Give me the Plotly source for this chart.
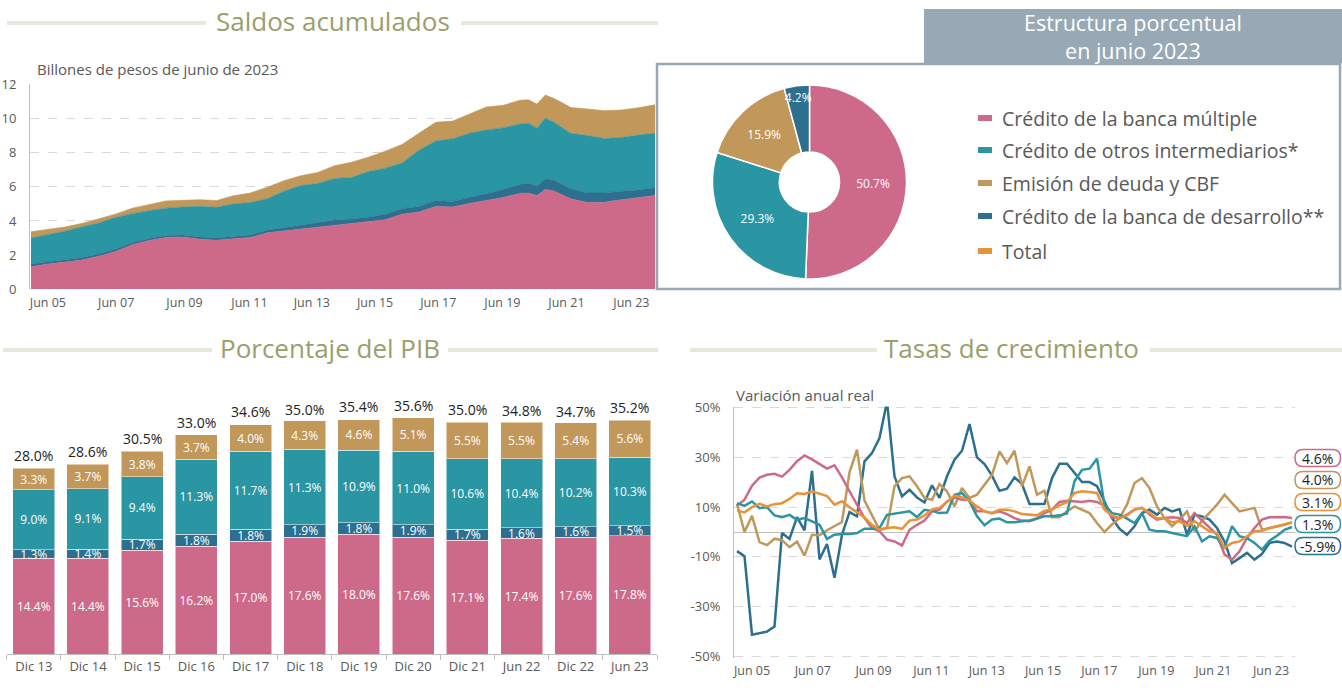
import plotly.graph_objects as go

ANCHO, ALTO = 1342, 698


def px(x):
    return x / ANCHO


def py(y):
    return 1 - y / ALTO


ROSA = '#cd6a89'
AZUL = '#2d6f8f'
TURQUESA = '#2a95a3'
ARENA = '#c1975a'
NARANJA = '#e8923a'
OLIVO = '#9a9f6b'
GRIS = '#595959'
GRIS_EJE = '#bfbfbf'
GRIS_REJILLA = '#d9d9d9'
BEIGE = '#e7e7dd'
PIZARRA = '#98a9b5'
FUENTE = 'Open Sans'

# ---------------- datos ----------------
# Saldos acumulados (billones de pesos de junio 2023); índice trimestral desde dic 2004
trim_saldos = [0, 2, 4, 6, 8, 10, 12, 14, 16, 18, 20, 22, 24, 26, 28, 30, 32, 34, 36, 38,
               40, 42, 44, 46, 48, 50, 52, 54, 56, 58, 59, 60, 61, 62, 63, 64, 66, 68, 70, 72, 74]
saldo_multiple = [1.31, 1.47, 1.58, 1.70, 1.92, 2.20, 2.60, 2.85, 3.02, 3.06, 2.93, 2.87, 2.95, 3.03,
                  3.30, 3.41, 3.51, 3.61, 3.74, 3.82, 3.92, 4.07, 4.40, 4.52, 4.85, 4.82, 5.03, 5.20,
                  5.38, 5.62, 5.64, 5.50, 5.85, 5.76, 5.55, 5.30, 5.08, 5.10, 5.25, 5.35, 5.49]
saldo_desarrollo = [0.16, 0.13, 0.14, 0.13, 0.13, 0.13, 0.12, 0.12, 0.12, 0.12, 0.12, 0.13, 0.13, 0.14,
                    0.15, 0.19, 0.24, 0.27, 0.31, 0.30, 0.30, 0.33, 0.32, 0.33, 0.35, 0.33, 0.37, 0.40,
                    0.47, 0.53, 0.58, 0.55, 0.63, 0.64, 0.60, 0.60, 0.57, 0.55, 0.50, 0.47, 0.46]
saldo_otros = [1.53, 1.60, 1.68, 1.82, 1.83, 1.87, 1.71, 1.63, 1.61, 1.64, 1.81, 1.80, 1.92, 1.91,
               1.85, 2.15, 2.33, 2.32, 2.45, 2.43, 2.68, 2.70, 2.68, 3.30, 3.50, 3.68, 3.75, 3.75,
               3.62, 3.55, 3.52, 3.40, 3.57, 3.40, 3.35, 3.25, 3.37, 3.20, 3.15, 3.23, 3.20]
saldo_deuda = [0.37, 0.30, 0.24, 0.20, 0.24, 0.20, 0.32, 0.38, 0.43, 0.39, 0.39, 0.40, 0.48, 0.56,
               0.68, 0.62, 0.58, 0.65, 0.75, 0.90, 0.85, 1.00, 1.10, 1.00, 1.10, 1.04, 1.15, 1.35,
               1.33, 1.40, 1.38, 1.42, 1.35, 1.40, 1.45, 1.52, 1.56, 1.63, 1.62, 1.60, 1.68]

etiquetas_fecha = ['Jun 05', 'Jun 07', 'Jun 09', 'Jun 11', 'Jun 13', 'Jun 15', 'Jun 17', 'Jun 19',
                   'Jun 21', 'Jun 23']
pos_fecha = [2.0, 10.1, 18.2, 25.9, 33.3, 40.8, 48.3, 55.9, 63.5, 71.2]

# Estructura porcentual junio 2023
nombres = ['Crédito de la banca múltiple', 'Crédito de otros intermediarios*',
           'Emisión de deuda y CBF', 'Crédito de la banca de desarrollo**', 'Total']
estructura = [50.7, 29.3, 15.9, 4.2]

# Porcentaje del PIB
periodos = ['Dic 13', 'Dic 14', 'Dic 15', 'Dic 16', 'Dic 17', 'Dic 18', 'Dic 19', 'Dic 20',
            'Dic 21', 'Jun 22', 'Dic 22', 'Jun 23']
pib_multiple = [14.4, 14.4, 15.6, 16.2, 17.0, 17.6, 18.0, 17.6, 17.1, 17.4, 17.6, 17.8]
pib_desarrollo = [1.3, 1.4, 1.7, 1.8, 1.8, 1.9, 1.8, 1.9, 1.7, 1.6, 1.6, 1.5]
pib_otros = [9.0, 9.1, 9.4, 11.3, 11.7, 11.3, 10.9, 11.0, 10.6, 10.4, 10.2, 10.3]
pib_deuda = [3.3, 3.7, 3.8, 3.7, 4.0, 4.3, 4.6, 5.1, 5.5, 5.5, 5.4, 5.6]
pib_total = [28.0, 28.6, 30.5, 33.0, 34.6, 35.0, 35.4, 35.6, 35.0, 34.8, 34.7, 35.2]

# Tasas de crecimiento (variación anual real, %), trimestral dic 2004 - jun 2023
trim_tasas = list(range(75))
tasa_multiple = [10.5, 13.0, 18.6, 21.9, 23.0, 23.4, 22.3, 25.0, 28.5, 30.8,
                 29.2, 27.2, 25.5, 26.8, 22.0, 16.4, 11.0, 5.6, 1.6, 0.3,
                 -3.1, -3.8, -5.4, 0.9, 2.9, 4.6, 8.3, 9.0, 12.3, 13.9,
                 13.0, 13.0, 8.3, 8.3, 7.6, 8.3, 7.2, 5.6, 4.6, 4.3,
                 5.4, 7.6, 9.0, 12.1, 12.6, 12.3, 12.1, 12.6, 12.1, 10.5,
                 5.9, 5.6, 7.0, 9.0, 9.7, 7.0, 5.0, 5.6, 5.9, 5.6,
                 3.6, 7.6, 4.6, 1.6, -1.1, -9.0, -11.1, -7.8, -2.4, 1.6,
                 5.0, 5.9, 6.0, 6.0, 5.6]
tasa_desarrollo = [-7.7, -9.7, -41.3, -40.7, -40.1, -38.0, -0.4, -2.8, 6.0, 0.7,
                   24.6, -11.0, -4.8, -18.4, -1.1, 8.0, 6.3, 28.4, 31.8, 37.8,
                   52.5, 22.4, 14.3, 17.0, 13.9, 11.9, 18.8, 13.7, 22.4, 29.1,
                   32.7, 43.4, 30.0, 27.3, 22.7, 16.6, 17.4, 22.0, 19.3, 11.3,
                   11.3, 11.3, 21.7, 27.5, 27.5, 24.0, 20.1, 20.1, 18.4, 12.3,
                   5.6, 1.3, -1.1, 2.3, 7.6, 9.0, 7.0, 9.7, 8.3, 9.2,
                   -1.1, 7.0, 6.3, 5.0, 1.6, -3.8, -12.5, -10.5, -8.4, -11.1,
                   -8.8, -4.4, -3.8, -4.4, -5.9]
tasa_otros = [11.6, 10.5, 12.3, 9.6, 10.0, 6.7, 6.0, 6.9, 4.9, 5.6,
              4.3, 2.9, -2.8, -1.1, -0.8, -0.8, -0.4, 1.3, 1.3, 1.6,
              6.9, 7.3, 7.6, 8.3, 6.0, 8.9, 8.5, 7.6, 7.8, 15.0,
              15.7, 12.3, 6.3, 2.7, 5.0, 5.4, 3.9, 3.9, 4.3, 4.6,
              5.4, 6.3, 6.3, 6.7, 7.5, 20.4, 25.0, 25.5, 29.5, 11.0,
              7.6, 7.0, 5.4, 3.6, 7.6, 0.9, 0.3, 0.3, -0.4, -1.1,
              -1.7, 2.3, -3.8, -1.7, -2.4, -6.5, 2.3, -1.7, -2.5, -4.4,
              -7.1, -3.5, -1.5, 0.9, 2.0]
tasa_deuda = [11.3, 0.0, 6.5, -4.1, -5.3, -2.7, -3.3, -6.1, -3.9, -9.5,
              -1.1, -1.3, 0.7, 2.3, 4.0, 24.0, 33.1, 12.6, 7.0, 0.9,
              1.6, 18.4, 21.7, 22.4, 18.4, 13.7, 13.0, 19.3, 16.4, 10.3,
              17.7, 13.7, 15.0, 19.0, 23.0, 32.4, 27.7, 32.7, 18.4, 26.4,
              15.0, 16.6, 5.9, 5.9, 8.3, 10.3, 9.0, 7.6, 3.6, 0.0,
              3.0, 5.6, 11.0, 19.7, 21.7, 17.7, 10.3, 5.6, 2.3, 5.0,
              8.3, 0.3, 4.5, 7.6, 11.0, 15.0, 11.7, 8.3, 9.0, 9.7,
              0.9, 1.6, 2.3, 2.9, 4.0]
tasa_total = [8.7, 7.9, 10.0, 11.3, 10.3, 11.2, 11.6, 13.3, 15.6, 15.3,
              16.4, 15.3, 14.5, 11.0, 12.4, 10.0, 8.0, 5.8, 2.9, 0.9,
              1.6, 1.9, 1.3, 4.6, 5.0, 6.7, 9.0, 9.7, 12.1, 14.6,
              13.9, 12.6, 10.3, 8.3, 7.6, 9.0, 9.0, 8.3, 7.2, 7.0,
              6.7, 8.6, 9.0, 10.7, 12.0, 15.7, 16.4, 16.1, 15.7, 9.0,
              6.7, 5.6, 6.7, 9.0, 9.7, 7.6, 5.4, 5.6, 3.9, 4.3,
              2.5, 4.3, 2.3, 0.3, -0.4, -6.4, -4.4, -3.8, -1.7, 0.3,
              0.5, 1.6, 2.3, 2.9, 3.8]
ultimas_tasas = [4.6, 4.0, 3.1, 1.3, -5.9]

colores = [ROSA, TURQUESA, ARENA, AZUL, NARANJA]
colores_ultimas = [ROSA, ARENA, NARANJA, TURQUESA, AZUL]

fig = go.Figure()
shapes = []
annotations = []

# ---------------- Saldos acumulados ----------------
for nombre, serie, color in [(nombres[0], saldo_multiple, ROSA),
                             (nombres[3], saldo_desarrollo, AZUL),
                             (nombres[1], saldo_otros, TURQUESA),
                             (nombres[2], saldo_deuda, ARENA)]:
    fig.add_trace(go.Scatter(x=trim_saldos, y=serie, name=nombre, stackgroup='saldos',
                             mode='lines', line=dict(width=0.6, color=color),
                             fillcolor=color, xaxis='x', yaxis='y', showlegend=False))

# ---------------- Estructura porcentual ----------------
fig.add_trace(go.Pie(values=estructura, labels=nombres[:4],
                     text=[f'{v:.1f}%' for v in estructura], textinfo='text',
                     textposition='inside', insidetextorientation='horizontal',
                     textfont=dict(color='white', size=12, family=FUENTE),
                     hole=0.31, sort=False, direction='clockwise', rotation=0,
                     marker=dict(colors=[ROSA, TURQUESA, ARENA, AZUL],
                                 line=dict(color='white', width=1.5)),
                     domain=dict(x=[px(712), px(907)], y=[py(279), py(85)]),
                     showlegend=False))

# ---------------- Porcentaje del PIB ----------------
for nombre, serie, color in [(nombres[0], pib_multiple, ROSA),
                             (nombres[3], pib_desarrollo, AZUL),
                             (nombres[1], pib_otros, TURQUESA),
                             (nombres[2], pib_deuda, ARENA)]:
    fig.add_trace(go.Bar(x=periodos, y=serie, name=nombre, marker_color=color,
                         marker_line=dict(color='rgba(255,255,255,0.5)', width=1),
                         text=[f'{v:.1f}%' for v in serie], textposition='inside',
                         insidetextanchor='middle', constraintext='none',
                         textfont=dict(color='white', size=12, family=FUENTE),
                         xaxis='x2', yaxis='y2', showlegend=False))

for periodo, total in zip(periodos, pib_total):
    annotations.append(dict(x=periodo, y=total, xref='x2', yref='y2', text=f'{total:.1f}%',
                            showarrow=False, yanchor='bottom', yshift=1,
                            font=dict(size=14, color='#222222', family=FUENTE)))

# ---------------- Tasas de crecimiento ----------------
for nombre, serie, color in [(nombres[3], tasa_desarrollo, AZUL),
                             (nombres[2], tasa_deuda, ARENA),
                             (nombres[0], tasa_multiple, ROSA),
                             (nombres[1], tasa_otros, TURQUESA),
                             (nombres[4], tasa_total, NARANJA)]:
    fig.add_trace(go.Scatter(x=trim_tasas, y=serie, name=nombre, mode='lines',
                             line=dict(color=color, width=2.5), xaxis='x3', yaxis='y3',
                             showlegend=False))

# etiquetas de última observación
for i, (valor, color) in enumerate(zip(ultimas_tasas, colores_ultimas)):
    cy = 458 + 22 * i
    x0, x1, y0, y1, r = 1295, 1340.5, cy - 8.5, cy + 8.5, 8
    ruta = (f'M {px(x0 + r)},{py(y0)} L {px(x1 - r)},{py(y0)} '
            f'Q {px(x1)},{py(y0)} {px(x1)},{py(cy)} '
            f'Q {px(x1)},{py(y1)} {px(x1 - r)},{py(y1)} '
            f'L {px(x0 + r)},{py(y1)} Q {px(x0)},{py(y1)} {px(x0)},{py(cy)} '
            f'Q {px(x0)},{py(y0)} {px(x0 + r)},{py(y0)} Z')
    shapes.append(dict(type='path', xref='paper', yref='paper', path=ruta,
                       fillcolor='white', line=dict(color=color, width=1.5)))
    annotations.append(dict(x=px((x0 + x1) / 2), y=py(cy), xref='paper', yref='paper',
                            text=f'{valor:.1f}%', showarrow=False,
                            xanchor='center', yanchor='middle',
                            font=dict(size=14, color='#222222', family=FUENTE)))


# ---------------- títulos y adornos ----------------
def titulo(texto, cx, cy, izq, der):
    annotations.append(dict(text=texto, x=px(cx), y=py(cy), xref='paper', yref='paper',
                            showarrow=False, xanchor='center', yanchor='middle',
                            font=dict(size=26, color=OLIVO, family=FUENTE)))
    for a, b in (izq, der):
        shapes.append(dict(type='line', xref='paper', yref='paper', x0=px(a), x1=px(b),
                           y0=py(cy + 2), y1=py(cy + 2), line=dict(color=BEIGE, width=4)))


titulo('Saldos acumulados', 333, 21, (7, 206), (461, 658))
titulo('Porcentaje del PIB', 330, 348, (3, 212), (448, 658))
titulo('Tasas de crecimiento', 1012, 348, (690, 877), (1150, 1342))

annotations.append(dict(text='Billones de pesos de junio de 2023', x=px(35), y=py(69),
                        xref='paper', yref='paper', showarrow=False,
                        xanchor='left', yanchor='middle',
                        font=dict(size=15, color=GRIS, family=FUENTE)))
annotations.append(dict(text='Variación anual real', x=px(734), y=py(395),
                        xref='paper', yref='paper', showarrow=False,
                        xanchor='left', yanchor='middle',
                        font=dict(size=15, color=GRIS, family=FUENTE)))

# encabezado y recuadro de la estructura
shapes.append(dict(type='rect', xref='paper', yref='paper', x0=px(924), x1=px(1342),
                   y0=py(63), y1=py(9), fillcolor=PIZARRA, line=dict(width=0), layer='below'))
shapes.append(dict(type='rect', xref='paper', yref='paper', x0=px(657), x1=px(1340),
                   y0=py(289), y1=py(64), line=dict(color=PIZARRA, width=2.5), layer='below'))
annotations.append(dict(text='Estructura porcentual<br>en junio 2023', x=px(1133), y=py(36),
                        xref='paper', yref='paper', showarrow=False,
                        xanchor='center', yanchor='middle', align='center',
                        font=dict(size=21.5, color='white', family=FUENTE)))

# leyenda
for i, (nombre, color) in enumerate(zip(nombres, colores)):
    cy = [118, 150, 183, 216, 251][i]
    shapes.append(dict(type='rect', xref='paper', yref='paper', x0=px(978), x1=px(992),
                       y0=py(cy + 3), y1=py(cy - 3), fillcolor=color, line=dict(width=0)))
    annotations.append(dict(text=nombre, x=px(1000), y=py(cy), xref='paper', yref='paper',
                            showarrow=False, xanchor='left', yanchor='middle',
                            font=dict(size=19.5, color=GRIS, family=FUENTE)))

tick_font = dict(size=12.5, color=GRIS, family=FUENTE)

fig.update_layout(
    width=ANCHO, height=ALTO, margin=dict(l=0, r=0, t=0, b=0, autoexpand=False),
    paper_bgcolor='white', plot_bgcolor='white',
    font=dict(family=FUENTE, color=GRIS),
    barmode='stack', bargap=0.225,
    uniformtext=dict(minsize=12, mode='show'),
    shapes=shapes, annotations=annotations,
    xaxis=dict(domain=[px(30), px(655)], range=[-0.12, 74], tickvals=pos_fecha,
               ticktext=etiquetas_fecha, showgrid=False, zeroline=False, showline=False,
               ticks='', tickfont=tick_font, anchor='y', ticklabelstandoff=4,
               automargin=False),
    yaxis=dict(domain=[py(289), py(84)], range=[0, 12.05], tickvals=[0, 2, 4, 6, 8, 10, 12],
               showgrid=True, gridcolor=GRIS_REJILLA, griddash='dash', zeroline=False,
               showline=True, linecolor=GRIS_EJE, tickfont=dict(size=13, color=GRIS, family=FUENTE),
               anchor='x', ticklabelstandoff=10, automargin=False),
    xaxis2=dict(domain=[px(6.7), px(657)], type='category', showline=True, linecolor=GRIS_EJE,
                ticks='outside', tickson='boundaries', ticklen=5, tickcolor=GRIS_EJE,
                showgrid=False, zeroline=False, tickfont=dict(size=13, color=GRIS, family=FUENTE),
                anchor='y2', automargin=False),
    yaxis2=dict(domain=[py(654), py(388.4)], range=[0, 40], visible=False, anchor='x2',
                automargin=False),
    xaxis3=dict(domain=[px(734), px(1295)], range=[-0.4, 74.4], tickvals=pos_fecha,
                ticktext=etiquetas_fecha, showgrid=False, zeroline=False, showline=False,
                ticks='', tickfont=tick_font, anchor='y3', ticklabelstandoff=4,
                automargin=False),
    yaxis3=dict(domain=[py(657.5), py(406.5)], range=[-50.5, 50.5],
                tickvals=[-50, -30, -10, 10, 30, 50],
                ticktext=['-50%', '-30%', '-10%', '10%', '30%', '50%'],
                showgrid=True, gridcolor=GRIS_REJILLA, griddash='dash',
                zeroline=True, zerolinecolor=GRIS_EJE, zerolinewidth=1,
                showline=True, linecolor=GRIS_EJE,
                tickfont=dict(size=13, color=GRIS, family=FUENTE), anchor='x3',
                ticklabelstandoff=10, automargin=False),
)

fig.write_html('out.html', config={'displayModeBar': False},
               post_script="document.body.style.margin='0';")
